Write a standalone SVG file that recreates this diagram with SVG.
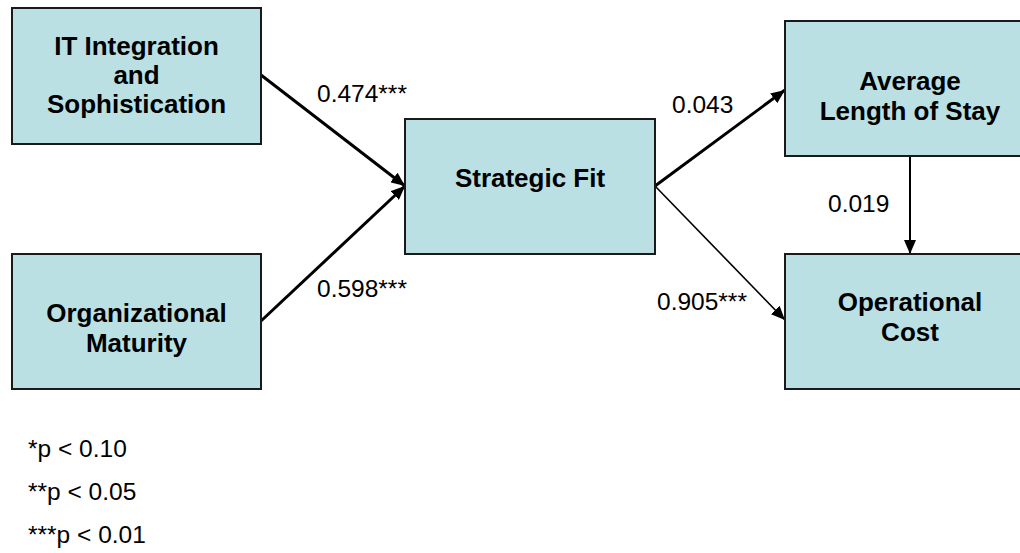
<svg xmlns="http://www.w3.org/2000/svg" width="1020" height="553" viewBox="0 0 1020 553">
<style>
.box{fill:#bae0e3;stroke:#1a1a1a;stroke-width:2}
.t{font-family:"Liberation Sans",Arial,sans-serif;font-weight:bold;font-size:26px;fill:#000;text-anchor:middle}
.l{font-family:"Liberation Sans",Arial,sans-serif;font-size:24.5px;fill:#000}
.c{stroke:#000;fill:none}
</style>
<defs>
<marker id="ah" viewBox="0 0 14 12" refX="14" refY="6" markerWidth="14" markerHeight="12" markerUnits="userSpaceOnUse" orient="auto">
<path d="M0,0 L14,6 L0,12 z" fill="#000"/>
</marker>
</defs>
<rect width="1020" height="553" fill="#fff"/>
<g id="connectors">
<line class="c" x1="261" y1="75" x2="405" y2="186" stroke-width="3" marker-end="url(#ah)"/>
<line class="c" x1="261" y1="321" x2="405" y2="186" stroke-width="3" marker-end="url(#ah)"/>
<line class="c" x1="655" y1="186" x2="785" y2="90" stroke-width="3" marker-end="url(#ah)"/>
<line class="c" x1="655" y1="186" x2="785" y2="320" stroke-width="1.6" marker-end="url(#ah)"/>
<line class="c" x1="910" y1="156" x2="910" y2="254" stroke-width="2" marker-end="url(#ah)"/>
<text class="l" x="317" y="102">0.474***</text>
<text class="l" x="317" y="297">0.598***</text>
<text class="l" x="672" y="113">0.043</text>
<text class="l" x="657" y="310">0.905***</text>
<text class="l" x="828" y="212">0.019</text>
</g>
<g id="it">
<rect class="box" x="12" y="8" width="249" height="136"/>
<text class="t" x="136.5" y="55">IT Integration</text>
<text class="t" x="136.5" y="84">and</text>
<text class="t" x="136.5" y="113">Sophistication</text>
</g>
<g id="org">
<rect class="box" x="12" y="254" width="249" height="135"/>
<text class="t" x="136.5" y="322">Organizational</text>
<text class="t" x="136.5" y="352">Maturity</text>
</g>
<g id="sf">
<rect class="box" x="405" y="119" width="250" height="135"/>
<text class="t" x="530" y="187">Strategic Fit</text>
</g>
<g id="alos">
<rect class="box" x="785" y="21" width="250" height="135"/>
<text class="t" x="910" y="90">Average</text>
<text class="t" x="910" y="120">Length of Stay</text>
</g>
<g id="opcost">
<rect class="box" x="785" y="254" width="250" height="135"/>
<text class="t" x="910" y="311">Operational</text>
<text class="t" x="910" y="341">Cost</text>
</g>
<g id="legend">
<text class="l" x="28" y="457">*p &lt; 0.10</text>
<text class="l" x="28" y="500">**p &lt; 0.05</text>
<text class="l" x="28" y="543">***p &lt; 0.01</text>
</g>
</svg>
